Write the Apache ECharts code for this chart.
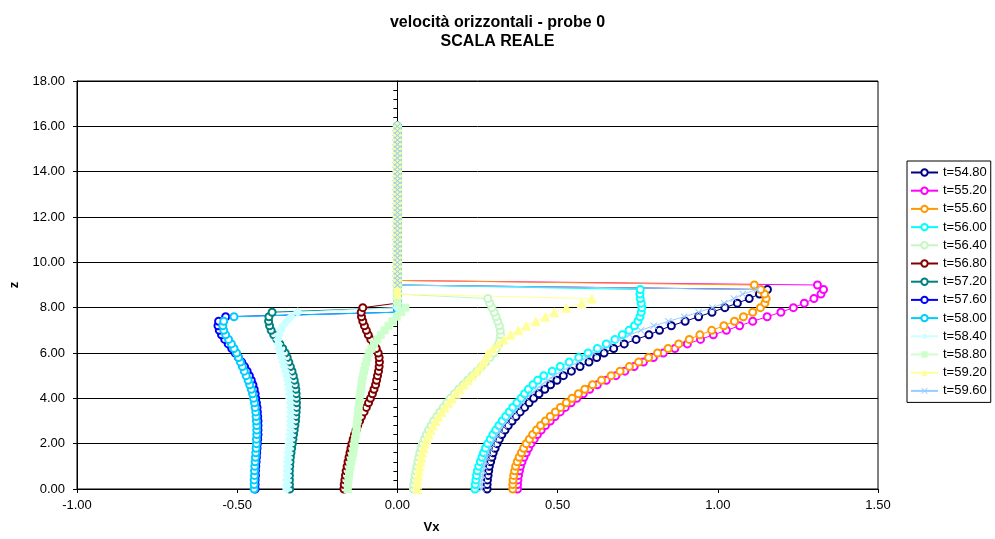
<!DOCTYPE html>
<html>
<head>
<meta charset="utf-8">
<script src="https://cdn.jsdelivr.net/npm/echarts@6/dist/echarts.min.js"></script>
<style>
  html, body { margin: 0; padding: 0; background: #fff; }
  #chart { width: 995px; height: 539px; }
</style>
</head>
<body>
<div id="chart"></div>
<script>
// z levels of the probe (same for every time step)
const zLevels = [
  0.0, 0.2, 0.4, 0.6, 0.8, 1.0, 1.2, 1.4, 1.6, 1.8,
  2.0, 2.2, 2.4, 2.6, 2.8, 3.0, 3.2, 3.4, 3.6, 3.8,
  4.0, 4.2, 4.4, 4.6, 4.8, 5.0, 5.2, 5.4, 5.6, 5.8,
  6.0, 6.2, 6.4, 6.6, 6.8, 7.0, 7.2, 7.4, 7.6, 7.8,
  8.0, 8.2, 8.4, 8.6, 8.8, 9.0, 9.2, 9.4, 9.6, 9.8,
  10.0, 10.2, 10.4, 10.6, 10.8, 11.0, 11.2, 11.4, 11.6, 11.8,
  12.0, 12.2, 12.4, 12.6, 12.8, 13.0, 13.2, 13.4, 13.6, 13.8,
  14.0, 14.2, 14.4, 14.6, 14.8, 15.0, 15.2, 15.4, 15.6, 15.8,
  16.0
];

// above the free surface the probe reads Vx = 0
const airVx = 0;

// Vx below the free surface, one value per z level from 0
const v5480 = [.280,.280,.281,.283,.285,.287,.291,.295,.299,.305, .311,.318,.326,.336,.346,.358,.370,.383,.397,.411,
  .425,.442,.460,.478,.498,.518,.543,.570,.598,.622, .645,.675,.708,.745,.785,.818,.855,.898,.940,.982, 1.022,1.061,1.098,1.130,1.155];
const v5520 = [.375,.375,.376,.378,.381,.384,.389,.395,.402,.409, .417,.427,.437,.449,.462,.477,.492,.508,.524,.542,
  .560,.580,.600,.624,.652,.682,.710,.739,.768,.799, .830,.866,.905,.946,.986,1.027,1.068,1.109,1.154,1.197, 1.236,1.270,1.300,1.322,1.330,1.311];
const v5560 = [.360,.360,.361,.363,.366,.369,.374,.380,.387,.394, .402,.412,.422,.434,.447,.462,.477,.493,.509,.527,
  .545,.565,.585,.609,.637,.667,.695,.724,.753,.784, .812,.845,.878,.911,.944,.981,1.019,1.052,1.080,1.109, 1.133,1.147,1.151,1.146,1.134,1.114];
const v5600 = [.242,.243,.245,.247,.250,.254,.259,.264,.269,.275, .282,.290,.298,.307,.317,.327,.338,.349,.360,.373,
  .386,.397,.409,.423,.438,.457,.483,.508,.536,.566, .595,.624,.652,.679,.702,.723,.740,.751,.757,.761, .763,.761,.758,.757,.758];
const v5640 = [.050,.051,.053,.055,.058,.061,.064,.067,.070,.074, .078,.084,.090,.097,.105,.113,.123,.133,.143,.154,
  .165,.178,.191,.205,.219,.233,.248,.262,.276,.289, .300,.309,.316,.320,.322,.321,.318,.313,.308,.302, .295,.288,.282];
const v5680 = [-.167,-.166,-.164,-.162,-.160,-.157,-.154,-.151,-.148,-.145, -.142,-.138,-.134,-.129,-.124,-.118,-.112,-.104,-.097,-.090,
  -.084,-.078,-.073,-.068,-.065,-.062,-.059,-.057,-.056,-.057, -.060,-.066,-.074,-.083,-.091,-.097,-.103,-.108,-.112,-.113, -.108];
const v5720 = [-.336,-.337,-.337,-.337,-.337,-.336,-.335,-.334,-.332,-.330, -.328,-.326,-.324,-.322,-.320,-.318,-.317,-.316,-.315,-.315,
  -.315,-.316,-.317,-.319,-.322,-.325,-.329,-.334,-.339,-.344, -.350,-.358,-.367,-.376,-.386,-.394,-.399,-.402,-.401,-.391];
const v5760 = [-.444,-.444,-.444,-.443,-.443,-.442,-.441,-.440,-.439,-.438, -.437,-.436,-.435,-.435,-.435,-.435,-.436,-.437,-.438,-.440,
  -.442,-.444,-.447,-.451,-.456,-.462,-.469,-.477,-.486,-.496, -.506,-.517,-.528,-.539,-.549,-.556,-.560,-.558,-.536];
const v5800 = [-.447,-.447,-.447,-.446,-.446,-.445,-.444,-.443,-.442,-.441, -.440,-.440,-.439,-.439,-.439,-.440,-.441,-.442,-.444,-.446,
  -.449,-.452,-.456,-.461,-.466,-.472,-.478,-.484,-.490,-.496, -.502,-.510,-.518,-.527,-.536,-.542,-.545,-.542,-.510];
const v5840 = [-.345,-.345,-.345,-.344,-.344,-.343,-.342,-.341,-.340,-.338, -.337,-.336,-.335,-.334,-.333,-.333,-.333,-.333,-.333,-.334,
  -.335,-.336,-.338,-.340,-.342,-.345,-.349,-.353,-.357,-.361, -.365,-.369,-.372,-.373,-.370,-.364,-.357,-.346,-.332,-.311];
const v5880 = [-.155,-.154,-.153,-.151,-.149,-.147,-.144,-.141,-.138,-.136, -.134,-.132,-.130,-.128,-.127,-.125,-.124,-.122,-.121,-.119,
  -.118,-.116,-.114,-.112,-.110,-.107,-.104,-.101,-.097,-.093, -.088,-.081,-.073,-.063,-.052,-.040,-.028,-.015,-.002,.012, .025];
const v5920 = [.062,.062,.063,.065,.067,.069,.072,.075,.078,.082, .086,.091,.097,.104,.111,.119,.128,.138,.148,.159,
  .170,.182,.194,.207,.220,.233,.246,.258,.268,.276, .283,.298,.314,.332,.353,.377,.402,.432,.462,.490, .527,.575,.607];
const v5960 = [.262,.262,.264,.266,.268,.271,.275,.280,.285,.291, .297,.304,.312,.321,.331,.342,.354,.366,.379,.391,
  .403,.418,.434,.451,.469,.489,.512,.537,.563,.588, .612,.638,.665,.693,.725,.760,.800,.846,.895,.940, .983,1.020,1.050,1.078,1.122];

const seriesNames = ['t=54.80','t=55.20','t=55.60','t=56.00','t=56.40','t=56.80','t=57.20',
  't=57.60','t=58.00','t=58.40','t=58.80','t=59.20','t=59.60'];
const seriesValues = [v5480, v5520, v5560, v5600, v5640, v5680, v5720, v5760, v5800, v5840, v5880, v5920, v5960];

const xMark = 'path://M0,1L1,0L5,4L9,0L10,1L6,5L10,9L9,10L5,6L1,10L0,9L4,5Z';
const looks = [
  { color: '#000080', symbol: 'emptyCircle', size: 7 },
  { color: '#FF00FF', symbol: 'emptyCircle', size: 7 },
  { color: '#FF9900', symbol: 'emptyCircle', size: 7 },
  { color: '#00FFFF', symbol: 'emptyCircle', size: 7 },
  { color: '#C4F7C4', symbol: 'emptyCircle', size: 7 },
  { color: '#800000', symbol: 'emptyCircle', size: 7 },
  { color: '#008080', symbol: 'emptyCircle', size: 7 },
  { color: '#0000FF', symbol: 'emptyCircle', size: 7 },
  { color: '#00CCFF', symbol: 'emptyCircle', size: 7 },
  { color: '#CCFFFF', symbol: 'diamond', size: 10 },
  { color: '#CCFFCC', symbol: 'rect', size: 8 },
  { color: '#FFFF99', symbol: 'triangle', size: 10 },
  { color: '#99CCFF', symbol: xMark, size: 7 }
];

const font = 'Liberation Sans, Arial, sans-serif';
const fix2 = v => v.toFixed(2);

const series = seriesNames.map((name, k) => {
  const water = seriesValues[k];
  const look = looks[k];
  return {
    name: name,
    type: 'line',
    data: zLevels.map((z, i) => [i < water.length ? water[i] : airVx, z]),
    symbol: look.symbol,
    symbolSize: look.size,
    showSymbol: true,
    itemStyle: { color: look.color, borderWidth: 1 },
    lineStyle: { color: look.color, width: 1 },
    emphasis: { disabled: true },
    animation: false
  };
});

const chart = echarts.init(document.getElementById('chart'));
const option = {
  backgroundColor: '#fff',
  textStyle: { fontFamily: font },
  title: [
    { text: 'velocità orizzontali - probe 0', left: 'center', top: 10,
      textStyle: { fontFamily: font, fontSize: 16, fontWeight: 'bold', color: '#000' } },
    { text: 'SCALA REALE', left: 'center', top: 29,
      textStyle: { fontFamily: font, fontSize: 16, fontWeight: 'bold', color: '#000' } }
  ],
  grid: { left: 75, right: 117, top: 81, bottom: 50, show: true, borderColor: '#000', borderWidth: 1 },
  legend: {
    orient: 'vertical', left: 907, top: 161,
    itemWidth: 27, itemHeight: 8, itemGap: 5.2,
    borderColor: '#000', borderWidth: 1, padding: [5, 4, 5, 3],
    textStyle: { fontFamily: font, fontSize: 13, color: '#000' },
    data: seriesNames
  },
  xAxis: {
    type: 'value', min: -1, max: 1.5, interval: 0.5,
    axisLine: { onZero: false, lineStyle: { color: '#000' } },
    axisTick: { length: 4, lineStyle: { color: '#000' } },
    axisLabel: { formatter: fix2, margin: 10, fontSize: 13, color: '#000' },
    splitLine: { show: false },
    name: 'Vx', nameLocation: 'middle', nameGap: 32,
    nameTextStyle: { fontWeight: 'bold', fontSize: 13, color: '#000', padding: [0, 92, 0, 0] }
  },
  yAxis: [
    {
      type: 'value', min: 0, max: 18, interval: 2, position: 'left',
      axisLine: { show: true, onZero: false, lineStyle: { color: '#000' } },
      axisTick: { show: true, length: 4, lineStyle: { color: '#000' } },
      axisLabel: { formatter: fix2, margin: 12, fontSize: 13, color: '#000' },
      splitLine: { show: true, lineStyle: { color: '#000' } },
      name: 'z', nameLocation: 'middle', nameGap: 56,
      nameTextStyle: { fontWeight: 'bold', fontSize: 13, color: '#000' }
    },
    {
      type: 'value', min: 0, max: 18, interval: 2, position: 'left',
      axisLine: { show: true, onZero: true, lineStyle: { color: '#000' } },
      axisTick: { show: true, length: 5, lineStyle: { color: '#000' } },
      minorTick: { show: true, splitNumber: 5, length: 4, lineStyle: { color: '#000' } },
      axisLabel: { show: false },
      splitLine: { show: false }
    }
  ],
  series: series
};
option && chart.setOption(option);
</script>
</body>
</html>
